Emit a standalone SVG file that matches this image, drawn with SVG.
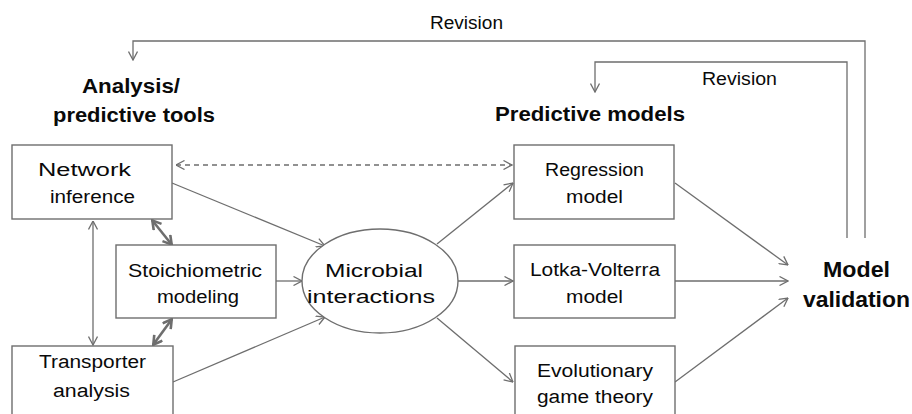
<svg xmlns="http://www.w3.org/2000/svg" width="912" height="414" viewBox="0 0 912 414">
<style>
.box{fill:#fff;stroke:#6e6e6e;stroke-width:1.4}
.ln{fill:none;stroke:#6e6e6e;stroke-width:1.3}
.th{fill:none;stroke:#6e6e6e;stroke-width:2.6}
.t{font-family:"Liberation Sans",Arial,sans-serif;font-size:18px;fill:#0a0a0a}
.b{font-family:"Liberation Sans",Arial,sans-serif;font-weight:bold;font-size:20px;fill:#0a0a0a}
.mv{font-size:22px}
</style>
<defs>
<marker id="a" viewBox="0 0 10 10" refX="9.5" refY="5" markerWidth="10" markerHeight="10" markerUnits="userSpaceOnUse" orient="auto-start-reverse">
<path d="M1,0.5 L9.5,5 L1,9.5" fill="none" stroke="#6e6e6e" stroke-width="1.3"/>
</marker>
<marker id="ab" viewBox="0 0 12 12" refX="11" refY="6" markerWidth="12" markerHeight="12" markerUnits="userSpaceOnUse" orient="auto-start-reverse">
<path d="M2,1 L10.5,6 L2,11" fill="none" stroke="#6e6e6e" stroke-width="2.6"/>
</marker>
</defs>
<rect width="912" height="414" fill="#fff"/>
<g id="connectors">
<polyline class="ln" points="865,238 865,41 133,41 133,60" marker-end="url(#a)"/>
<polyline class="ln" points="847,238 847,62 595,62 595,92" marker-end="url(#a)"/>
<line class="ln" x1="176" y1="165" x2="512" y2="165" stroke-dasharray="5,4" marker-start="url(#a)" marker-end="url(#a)"/>
<line class="ln" x1="172" y1="183" x2="325" y2="246" marker-end="url(#a)"/>
<line class="ln" x1="276" y1="281" x2="302" y2="281" marker-end="url(#a)"/>
<line class="ln" x1="173" y1="382" x2="325" y2="317" marker-end="url(#a)"/>
<line class="ln" x1="93" y1="221" x2="93" y2="345" marker-start="url(#a)" marker-end="url(#a)"/>
<line class="th" x1="152" y1="220" x2="172" y2="245" marker-start="url(#ab)" marker-end="url(#ab)"/>
<line class="th" x1="172" y1="319" x2="153" y2="345" marker-start="url(#ab)" marker-end="url(#ab)"/>
<line class="ln" x1="437" y1="244" x2="513" y2="183" marker-end="url(#a)"/>
<line class="ln" x1="458" y1="281" x2="513" y2="281" marker-end="url(#a)"/>
<line class="ln" x1="437" y1="318" x2="513" y2="382" marker-end="url(#a)"/>
<line class="ln" x1="675" y1="183" x2="788" y2="265" marker-end="url(#a)"/>
<line class="ln" x1="675" y1="281" x2="788" y2="281" marker-end="url(#a)"/>
<line class="ln" x1="675" y1="382" x2="788" y2="298" marker-end="url(#a)"/>
</g>
<g id="labels">
<text class="t" x="430" y="29" textLength="73" lengthAdjust="spacingAndGlyphs">Revision</text>
<text class="t" x="702" y="85" textLength="75" lengthAdjust="spacingAndGlyphs">Revision</text>
<text class="b" x="82" y="93" textLength="98" lengthAdjust="spacingAndGlyphs">Analysis/</text>
<text class="b" x="53" y="122" textLength="162" lengthAdjust="spacingAndGlyphs">predictive tools</text>
<text class="b" x="495" y="121" textLength="190" lengthAdjust="spacingAndGlyphs">Predictive models</text>
</g>
<g id="network-inference">
<rect class="box" x="12" y="145" width="160" height="74"/>
<text class="t" x="38" y="176" textLength="93" lengthAdjust="spacingAndGlyphs">Network</text>
<text class="t" x="50" y="203" textLength="85" lengthAdjust="spacingAndGlyphs">inference</text>
</g>
<g id="stoichiometric-modeling">
<rect class="box" x="116" y="245" width="160" height="73"/>
<text class="t" x="128" y="277" textLength="134" lengthAdjust="spacingAndGlyphs">Stoichiometric</text>
<text class="t" x="157" y="303" textLength="82" lengthAdjust="spacingAndGlyphs">modeling</text>
</g>
<g id="transporter-analysis">
<rect class="box" x="12" y="346" width="161" height="80"/>
<text class="t" x="39" y="368" textLength="107" lengthAdjust="spacingAndGlyphs">Transporter</text>
<text class="t" x="53" y="397" textLength="77" lengthAdjust="spacingAndGlyphs">analysis</text>
</g>
<g id="microbial-interactions">
<ellipse class="box" cx="380" cy="281" rx="78" ry="52"/>
<text class="t" x="325" y="277" textLength="98" lengthAdjust="spacingAndGlyphs">Microbial</text>
<text class="t" x="307" y="303" textLength="128" lengthAdjust="spacingAndGlyphs">interactions</text>
</g>
<g id="regression-model">
<rect class="box" x="514" y="145" width="160" height="74"/>
<text class="t" x="545" y="176" textLength="99" lengthAdjust="spacingAndGlyphs">Regression</text>
<text class="t" x="566" y="203" textLength="57" lengthAdjust="spacingAndGlyphs">model</text>
</g>
<g id="lotka-volterra-model">
<rect class="box" x="514" y="245" width="161" height="73"/>
<text class="t" x="530" y="276" textLength="130" lengthAdjust="spacingAndGlyphs">Lotka-Volterra</text>
<text class="t" x="566" y="303" textLength="57" lengthAdjust="spacingAndGlyphs">model</text>
</g>
<g id="evolutionary-game-theory">
<rect class="box" x="515" y="346" width="160" height="80"/>
<text class="t" x="537" y="377" textLength="116" lengthAdjust="spacingAndGlyphs">Evolutionary</text>
<text class="t" x="537" y="403" textLength="116" lengthAdjust="spacingAndGlyphs">game theory</text>
</g>
<g id="model-validation">
<text class="b mv" x="823" y="277" textLength="67" lengthAdjust="spacingAndGlyphs">Model</text>
<text class="b mv" x="803" y="307" textLength="107" lengthAdjust="spacingAndGlyphs">validation</text>
</g>
</svg>
